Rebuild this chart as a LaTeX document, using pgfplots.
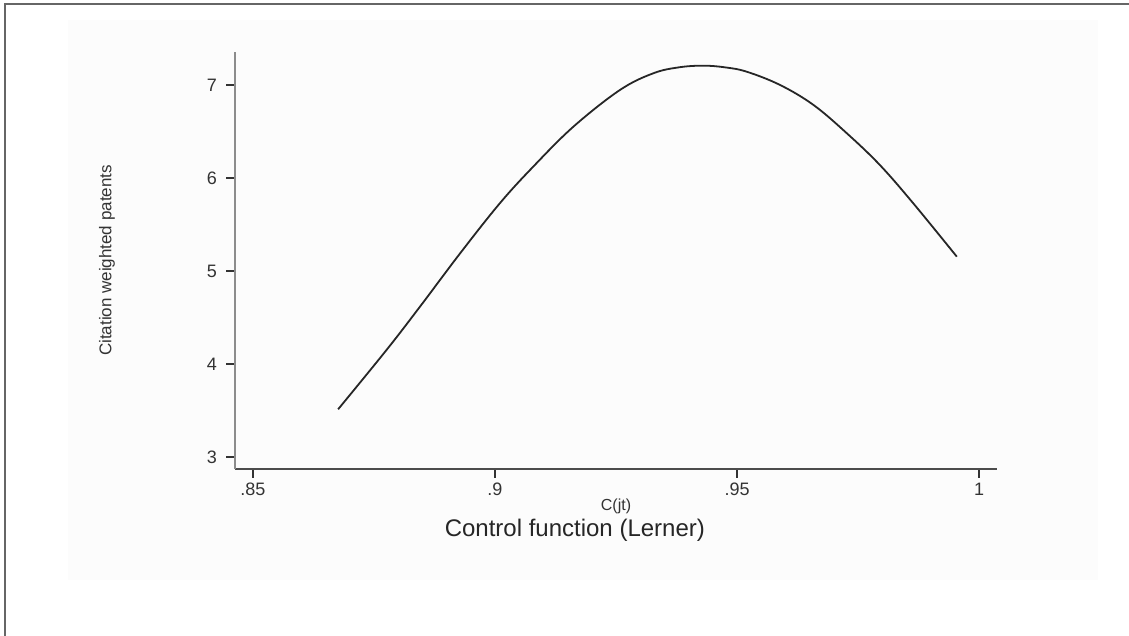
\documentclass[border=0pt]{standalone}
\usepackage{fontspec}
\setmainfont{Liberation Sans}
\usepackage{pgfplots}
\pgfplotsset{compat=1.18}

% curve: C(jt) against citation weighted patents
\pgfplotstableread{
x      y
0.8676 3.513
0.8776 4.151
0.8845 4.616
0.8928 5.190
0.9010 5.728
0.9079 6.122
0.9162 6.552
0.9258 6.946
0.9327 7.126
0.9380 7.190
0.9430 7.208
0.9475 7.190
0.9520 7.143
0.9589 7.000
0.9658 6.785
0.9727 6.480
0.9795 6.140
0.9864 5.728
0.9954 5.154
}\curvedata

\begin{document}
\begin{tikzpicture}
    % page frame, 1 px = 0.5 pt
    \useasboundingbox (0,0) rectangle (564.5pt,318pt);
    \fill[black!1] (34pt,28pt) rectangle (549pt,308pt);
    \draw[black!60, line width=1pt] (2.5pt,0pt) -- (2.5pt,316pt) -- (564.5pt,316pt);

    \begin{axis}[
        at={(117.5pt,83.5pt)},
        anchor=south west,
        scale only axis,
        width=381pt,
        height=208.5pt,
        xmin=0.8463, xmax=1.0037,
        ymin=2.871, ymax=7.355,
        axis lines=left,
        axis line style={-},
        x axis line style={black!70, line width=1pt},
        y axis line style={black!45, line width=1.3pt},
        xtick={0.85,0.9,0.95,1},
        xticklabels={.85,.9,.95,1},
        ytick={3,4,5,6,7},
        yticklabels={3,4,5,6,7},
        tick align=outside,
        major tick length=4.5pt,
        tick style={black!80, line width=0.8pt},
        tick label style={font=\fontsize{9}{10}\selectfont, black!80},
        /pgf/number format/assume math mode=true,
        xticklabel style={yshift=1pt},
        yticklabel style={xshift=-1pt},
        xlabel={C(jt)},
        xlabel style={at={(axis description cs:0.5,-0.1)}, anchor=base,
            font=\fontsize{8}{9}\selectfont, black!80},
        ylabel={Citation weighted patents},
        ylabel style={at={(axis description cs:-0.168,0.5)}, anchor=center,
            font=\fontsize{8.5}{9}\selectfont, black!80},
        clip=false,
    ]
    \addplot[black!85, line width=0.9pt, smooth, tension=0.6, no marks] table[x=x, y=y] {\curvedata};
    \node[anchor=base, font=\fontsize{12}{14}\selectfont, black!85]
        at (axis description cs:0.446,-0.163) {Control function (Lerner)};
    \end{axis}
\end{tikzpicture}
\end{document}
